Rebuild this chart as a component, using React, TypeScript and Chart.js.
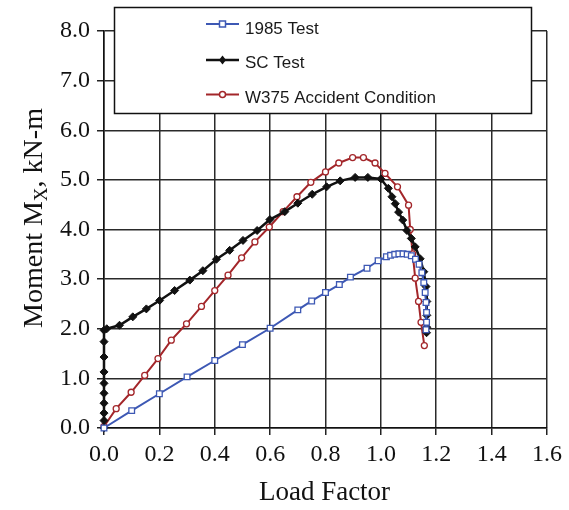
import React, { useEffect, useRef } from "react";
import { Chart, registerables } from "chart.js";

Chart.register(...registerables);

// ---- data ----
const seriesNames = ["1985 Test", "SC Test", "W375 Accident Condition"];
const xTickValues = [0, 0.2, 0.4, 0.6, 0.8, 1.0, 1.2, 1.4, 1.6];
const yTickValues = [0, 1, 2, 3, 4, 5, 6, 7, 8];
const xTitle = "Load Factor";
const yTitleMain = "Moment M";
const yTitleSub = "X";
const yTitleTail = ", kN-m";

const blueX = [0, 0.10, 0.20, 0.30, 0.40, 0.50, 0.60, 0.70, 0.75, 0.80, 0.85, 0.89, 0.95, 0.99, 1.02, 1.035, 1.05, 1.065, 1.08, 1.095, 1.11, 1.125, 1.138, 1.148, 1.155, 1.16, 1.163, 1.165, 1.165, 1.163];
const blueY = [0, 0.35, 0.69, 1.03, 1.36, 1.68, 2.01, 2.38, 2.56, 2.73, 2.89, 3.04, 3.22, 3.37, 3.45, 3.48, 3.50, 3.51, 3.51, 3.50, 3.47, 3.40, 3.30, 3.13, 2.93, 2.73, 2.53, 2.33, 2.13, 1.98];

const blackX = [0, 0, 0, 0, 0, 0, 0, 0, 0, 0, 0.01, 0.056, 0.104, 0.153, 0.201, 0.255, 0.31, 0.357, 0.406, 0.454, 0.502, 0.553, 0.599, 0.653, 0.70, 0.752, 0.804, 0.853, 0.907, 0.953, 1.00, 1.027, 1.04, 1.052, 1.064, 1.079, 1.094, 1.11, 1.124, 1.142, 1.155, 1.163, 1.166, 1.166, 1.166, 1.165];
const blackY = [0, 0.15, 0.3, 0.5, 0.7, 0.9, 1.13, 1.43, 1.74, 1.97, 2.0, 2.07, 2.24, 2.40, 2.57, 2.77, 2.98, 3.17, 3.40, 3.58, 3.78, 3.98, 4.20, 4.36, 4.53, 4.71, 4.86, 4.98, 5.05, 5.05, 5.02, 4.83, 4.66, 4.52, 4.35, 4.19, 3.98, 3.82, 3.65, 3.41, 3.15, 2.85, 2.55, 2.27, 2.03, 1.92];

const redX = [0, 0.044, 0.098, 0.147, 0.195, 0.243, 0.298, 0.352, 0.40, 0.448, 0.497, 0.545, 0.597, 0.647, 0.697, 0.747, 0.80, 0.848, 0.898, 0.937, 0.979, 1.015, 1.06, 1.10, 1.106, 1.115, 1.124, 1.136, 1.145, 1.157];
const redY = [0.03, 0.39, 0.72, 1.06, 1.40, 1.77, 2.10, 2.45, 2.77, 3.08, 3.43, 3.75, 4.05, 4.36, 4.66, 4.95, 5.16, 5.34, 5.45, 5.45, 5.34, 5.13, 4.86, 4.49, 4.0, 3.51, 3.02, 2.55, 2.13, 1.66];

const BLUE = "#3d58b4";
const BLACK = "#111111";
const RED = "#a3262a";
const SERIF = '"Liberation Serif", "Times New Roman", serif';
const SANS = '"Liberation Sans", Arial, sans-serif';

const toPoints = (xs: number[], ys: number[]) => xs.map((x, i) => ({ x, y: ys[i] }));

const legendMarkers = ["square", "diamond", "circle"];
const legendColors = [BLUE, BLACK, RED];

const overlay = {
  id: "overlay",
  afterDraw(chart: any) {
    const ctx: CanvasRenderingContext2D = chart.ctx;
    const area = chart.chartArea;
    ctx.save();
    // x title
    ctx.fillStyle = "#111";
    ctx.font = `27px ${SERIF}`;
    ctx.textAlign = "center";
    ctx.textBaseline = "alphabetic";
    ctx.fillText(xTitle, (area.left + area.right) / 2 - 1, 500);

    // y title with subscript
    ctx.save();
    ctx.translate(42, 218);
    ctx.rotate(-Math.PI / 2);
    ctx.textAlign = "left";
    const big = `28px ${SERIF}`;
    const small = `19px ${SERIF}`;
    ctx.font = big;
    const w1 = ctx.measureText(yTitleMain).width;
    const w3 = ctx.measureText(yTitleTail).width;
    ctx.font = small;
    const w2 = ctx.measureText(yTitleSub).width;
    let x = -(w1 + w2 + w3) / 2;
    ctx.font = big;
    ctx.fillText(yTitleMain, x, 0);
    x += w1;
    ctx.font = small;
    ctx.fillText(yTitleSub, x, 5);
    x += w2;
    ctx.font = big;
    ctx.fillText(yTitleTail, x, 0);
    ctx.restore();

    // legend box
    ctx.fillStyle = "#fff";
    ctx.fillRect(114.5, 7.5, 417, 106);
    ctx.strokeStyle = "#111";
    ctx.lineWidth = 1.5;
    ctx.strokeRect(114.5, 7.5, 417, 106);
    const lineYs = [24, 60, 94.5];
    const textYs = [33.5, 68, 103];
    for (let i = 0; i < seriesNames.length; i++) {
      const ly = lineYs[i];
      ctx.strokeStyle = legendColors[i];
      ctx.lineWidth = i === 1 ? 2.5 : 2;
      ctx.beginPath();
      ctx.moveTo(206, ly);
      ctx.lineTo(239, ly);
      ctx.stroke();
      const mx = 222.5;
      ctx.lineWidth = 1.5;
      ctx.beginPath();
      if (legendMarkers[i] === "square") {
        ctx.rect(mx - 3, ly - 3, 6, 6);
        ctx.fillStyle = "#fff";
        ctx.fill();
        ctx.stroke();
      } else if (legendMarkers[i] === "diamond") {
        ctx.moveTo(mx, ly - 4.5);
        ctx.lineTo(mx + 3.5, ly);
        ctx.lineTo(mx, ly + 4.5);
        ctx.lineTo(mx - 3.5, ly);
        ctx.closePath();
        ctx.fillStyle = BLACK;
        ctx.fill();
      } else {
        ctx.arc(mx, ly, 3, 0, Math.PI * 2);
        ctx.fillStyle = "#fff";
        ctx.fill();
        ctx.stroke();
      }
      ctx.fillStyle = "#1a1a1a";
      ctx.font = `17px ${SANS}`;
      ctx.textAlign = "left";
      ctx.textBaseline = "alphabetic";
      ctx.fillText(seriesNames[i], 245, textYs[i]);
    }
    ctx.restore();
  },
};

export default function App() {
  const ref = useRef<HTMLCanvasElement>(null);
  useEffect(() => {
    const canvas = ref.current!;
    const chart = new Chart(canvas, {
      type: "line",
      data: {
        datasets: [
          {
            label: seriesNames[0],
            data: toPoints(blueX, blueY),
            borderColor: BLUE,
            borderWidth: 2,
            pointStyle: "rect",
            pointRadius: 4,
            pointBorderWidth: 1.3,
            pointBorderColor: BLUE,
            pointBackgroundColor: "#fff",
            tension: 0,
            clip: 10,
          },
          {
            label: seriesNames[1],
            data: toPoints(blackX, blackY),
            borderColor: BLACK,
            borderWidth: 2.5,
            pointStyle: "rectRot",
            pointRadius: 4,
            pointBorderWidth: 1,
            pointBorderColor: BLACK,
            pointBackgroundColor: BLACK,
            tension: 0,
            clip: 10,
          },
          {
            label: seriesNames[2],
            data: toPoints(redX, redY),
            borderColor: RED,
            borderWidth: 2,
            pointStyle: "circle",
            pointRadius: 3,
            pointBorderWidth: 1.3,
            pointBorderColor: RED,
            pointBackgroundColor: "#fff",
            tension: 0,
            clip: 10,
          },
        ],
      } as any,
      options: {
        responsive: false,
        animation: false,
        devicePixelRatio: 1,
        layout: { padding: { left: 0, top: 31, right: 22, bottom: 0 } },
        plugins: {
          legend: { display: false },
          tooltip: { enabled: false },
        },
        scales: {
          x: {
            type: "linear",
            min: xTickValues[0],
            max: xTickValues[xTickValues.length - 1],
            afterBuildTicks: (s: any) => {
              s.ticks = xTickValues.map((v) => ({ value: v }));
            },
            ticks: {
              callback: (v: any) => Number(v).toFixed(1),
              font: { family: SERIF, size: 24 },
              color: "#111",
              padding: 5,
              maxRotation: 0,
              autoSkip: false,
            },
            grid: { color: "#2a2a2a", lineWidth: 1.5, tickLength: 7, tickColor: "#222", drawTicks: true },
            border: { color: "#111", width: 1.5 },
            afterFit: (s: any) => {
              s.height = 82;
            },
          },
          y: {
            type: "linear",
            min: yTickValues[0],
            max: yTickValues[yTickValues.length - 1],
            afterBuildTicks: (s: any) => {
              s.ticks = yTickValues.map((v) => ({ value: v }));
            },
            ticks: {
              callback: (v: any) => Number(v).toFixed(1),
              font: { family: SERIF, size: 24 },
              color: "#111",
              padding: 7,
              autoSkip: false,
            },
            grid: { color: "#2a2a2a", lineWidth: 1.5, tickLength: 7, tickColor: "#222", drawTicks: true },
            border: { color: "#111", width: 1.5 },
            afterFit: (s: any) => {
              s.width = 104;
            },
          },
        },
      } as any,
      plugins: [overlay],
    });
    return () => chart.destroy();
  }, []);
  return (
    <div style={{ position: "fixed", left: 0, top: 0, width: 569, height: 510, background: "#fff" }}>
      <canvas ref={ref} width={569} height={510} style={{ display: "block" }} />
    </div>
  );
}
